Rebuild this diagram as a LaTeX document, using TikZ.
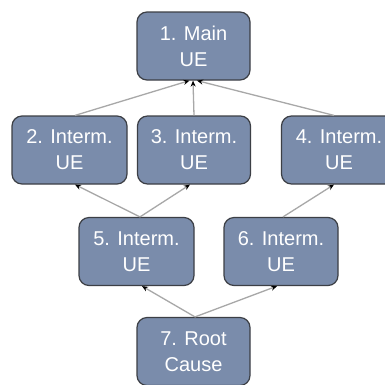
\documentclass[tikz,border=0pt]{standalone}
\usepackage{fontspec}
\setmainfont{Liberation Sans}
\usetikzlibrary{arrows.meta}
\definecolor{boxfill}{HTML}{7A8CAB}
\definecolor{boxline}{HTML}{3C3F45}
\definecolor{linkgray}{HTML}{A8A8A8}
\begin{document}
\begin{tikzpicture}[x=1pt,y=-1pt,
  ue/.style={draw=boxline, line width=1.2pt, fill=boxfill, rounded corners=10pt,
    minimum width=113pt, minimum height=68pt, inner sep=0pt, align=center,
    text=white, font=\fontsize{20}{26}\selectfont},
  link/.style={draw=linkgray, line width=1.3pt, -{Stealth[length=6pt,width=5pt,color=black]}}]
\useasboundingbox[fill=white] (0,0) rectangle (385,384);
\node[ue] (n1) at (193.5,46) {1. Main\\UE};
\node[ue, minimum width=115pt] (n2) at (69.5,150) {2. Interm.\\UE};
\node[ue] (n3) at (194,150) {3. Interm.\\UE};
\node[ue, minimum width=115pt] (n4) at (339,150) {4. Interm.\\UE};
\node[ue, minimum width=115pt] (n5) at (136.5,251.5) {5. Interm.\\UE};
\node[ue, minimum width=114pt] (n6) at (281,251.5) {6. Interm.\\UE};
\node[ue] (n7) at (193.5,351.5) {7. Root\\Cause};
\draw[link] ([xshift=5.5pt]n2.north) -- ([xshift=-4pt]n1.south);
\draw[link] (n3.north) -- ([xshift=-0.5pt]n1.south);
\draw[link] ([xshift=-5pt]n4.north) -- ([xshift=3.5pt]n1.south);
\draw[link] ([xshift=3.5pt]n5.north) -- ([xshift=5.5pt]n2.south);
\draw[link] ([xshift=3.5pt]n5.north) -- ([xshift=-4pt]n3.south);
\draw[link] ([xshift=2pt]n6.north) -- ([xshift=-5pt]n4.south);
\draw[link] ([xshift=1.5pt]n7.north) -- ([xshift=5.5pt]n5.south);
\draw[link] ([xshift=1.5pt]n7.north) -- ([xshift=-4pt]n6.south);
\end{tikzpicture}
\end{document}
